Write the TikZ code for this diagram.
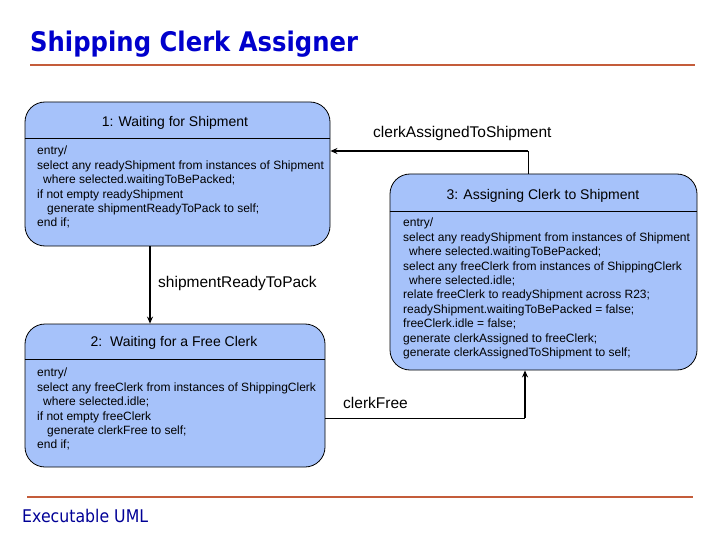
\documentclass[tikz,border=0pt]{standalone}
\usepackage{fontspec}
\setmainfont{Liberation Sans}
\newfontfamily\headfont{DejaVu Sans}
\usetikzlibrary{arrows.meta}

\definecolor{statefill}{RGB}{166,194,250}
\definecolor{rulecolor}{RGB}{196,92,58}
\definecolor{titleblue}{RGB}{0,0,204}
\definecolor{footblue}{RGB}{0,0,150}

\begin{document}
\begin{tikzpicture}[x=1pt, y=-1pt,
  state/.style={draw, fill=statefill, rounded corners=20pt, line width=0.8pt, inner sep=0pt},
  statename/.style={inner sep=0pt, font=\fontsize{14}{16}\selectfont},
  code/.style={anchor=north west, align=left, inner sep=0pt, font=\fontsize{12}{14.4}\selectfont},
  event/.style={anchor=west, inner sep=0pt, font=\fontsize{15.5}{18}\selectfont},
  trans/.style={line width=1.6pt, -{Stealth[length=7pt,width=6pt]}}]
  \useasboundingbox (0,0) rectangle (720,540);

  % heading and footer
  \node (heading) [anchor=west, inner sep=0pt, text=titleblue,
    font=\headfont\bfseries\fontsize{27}{30}\selectfont] at (30,44)
    {\scalebox{0.9}[1]{Shipping Clerk Assigner}};
  \draw [rulecolor, line width=2.5pt] (30,65) -- (695,65);
  \draw [rulecolor, line width=2.5pt] (27,497) -- (693,497);
  \node (footer) [anchor=west, inner sep=0pt, text=footblue,
    font=\headfont\fontsize{17.5}{20}\selectfont] at (22,516)
    {\scalebox{0.9}[1]{Executable UML}};

  % states
  \node (wait) [state, minimum width=305pt, minimum height=144pt] at (177.5,174) {};
  \draw (wait.west |- 0,138) -- (wait.east |- 0,138);
  \node (waitname) [statename] at (175,123) {1: Waiting for Shipment};
  \node (waitcode) [code] at (37,146) {entry/\\
    select any readyShipment from instances of Shipment\\
    \hspace*{6pt}where selected.waitingToBePacked;\\
    if not empty readyShipment\\
    \hspace*{10pt}generate shipmentReadyToPack to self;\\
    end if;};

  \node (freeclerk) [state, minimum width=300pt, minimum height=143pt] at (175,395.5) {};
  \draw (freeclerk.west |- 0,359) -- (freeclerk.east |- 0,359);
  \node (freename) [statename] at (174,343) {2:\ \ Waiting for a Free Clerk};
  \node (freecode) [code] at (37,368) {entry/\\
    select any freeClerk from instances of ShippingClerk\\
    \hspace*{6pt}where selected.idle;\\
    if not empty freeClerk\\
    \hspace*{10pt}generate clerkFree to self;\\
    end if;};

  \node (assign) [state, minimum width=307pt, minimum height=196pt] at (543.5,272) {};
  \draw (assign.west |- 0,211) -- (assign.east |- 0,211);
  \node (assignname) [statename] at (543,196) {3: Assigning Clerk to Shipment};
  \node (assigncode) [code] at (403,218) {entry/\\
    select any readyShipment from instances of Shipment\\
    \hspace*{6pt}where selected.waitingToBePacked;\\
    select any freeClerk from instances of ShippingClerk\\
    \hspace*{6pt}where selected.idle;\\
    relate freeClerk to readyShipment across R23;\\
    readyShipment.waitingToBePacked = false;\\
    freeClerk.idle = false;\\
    generate clerkAssigned to freeClerk;\\
    generate clerkAssignedToShipment to self;};

  % transitions
  \coordinate (c1) at (150,0);
  \draw [trans] (wait.south -| c1) -- (freeclerk.north -| c1);
  \node (readylabel) [event] at (158,283) {shipmentReadyToPack};

  \coordinate (c2) at (528,151);
  \draw [line width=0.8pt] (assign.north -| c2) -- (c2);
  \draw [trans] (c2) -- (wait.east |- c2);
  \node (assignedlabel) [event] at (373,133) {clerkAssignedToShipment};

  \coordinate (c3) at (525,418);
  \draw [line width=0.8pt] (freeclerk.east |- c3) -- (c3);
  \draw [trans] (c3) -- (assign.south -| c3);
  \node (freelabel) [event] at (343,403) {clerkFree};
\end{tikzpicture}
\end{document}
